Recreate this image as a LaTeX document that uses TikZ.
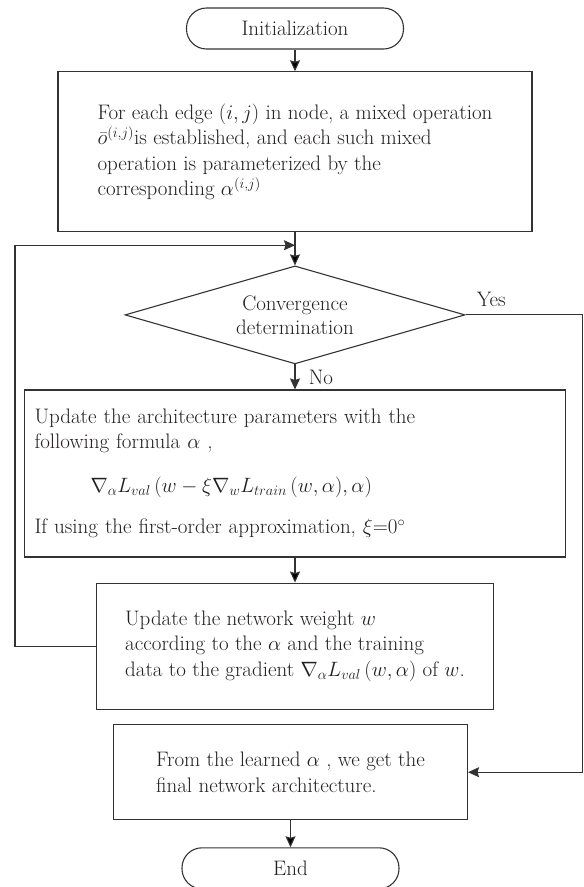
\documentclass[tikz,border=0pt]{standalone}
\usepackage{amsmath}
\usepackage{amssymb}
\usepackage{tikz}
\usetikzlibrary{arrows.meta,positioning,shapes.geometric,calc}
\definecolor{linegray}{HTML}{333333}
\definecolor{textgray}{HTML}{231F20}
\tikzset{
    %Define standard arrow tip
    >={Stealth[length=11pt,width=10pt,inset=1.5pt]},
    %Define style for boxes
    terminal/.style={
           rectangle,
           rounded corners=20pt,
           draw=linegray, line width=1.1pt,
           minimum width=217pt,
           minimum height=41pt,
           font=\fontsize{21}{25}\selectfont,
           text=textgray,
           text centered},
    procbox/.style={
           rectangle,
           draw=linegray, line width=1.1pt,
           font=\fontsize{21}{25.5}\selectfont,
           text=textgray,
           align=left},
    decision/.style={
           diamond,
           aspect=3.47,
           draw=linegray, line width=1.1pt,
           inner sep=0pt,
           minimum width=340pt,
           minimum height=98pt,
           font=\fontsize{21}{24}\selectfont,
           text=textgray,
           align=center},
    % Define arrow style
    pil/.style={
           ->,
           draw=linegray,
           line width=1.1pt},
    lbl/.style={
           font=\fontsize{21}{25}\selectfont,
           text=textgray}
}
\begin{document}
\begin{tikzpicture}[x=1pt,y=-1pt]
\useasboundingbox (0,0) rectangle (584,887);
\node[terminal] (init) at (295,28.5) {Initialization};
\node[procbox, below=21.7pt of init, minimum width=474pt, minimum height=160pt] (mixed) {For each edge $(i, j)$ in node, a mixed operation\\
  $\bar{o}^{(i,j)}$is established, and each such mixed\\
  operation is parameterized by the\\
  corresponding $\alpha^{(i,j)}$};
\node[decision, below=33pt of mixed] (conv) {Convergence\\determination};
\node[procbox, below=25pt of conv, minimum width=541pt, minimum height=167pt, text width=521pt, inner sep=10pt] (arch) {Update the architecture parameters with the\\
  following formula $\alpha$ ,\\[18pt]
  \hspace*{56pt}$\nabla_{\alpha}L_{val}\,(w-\xi\nabla_{w}L_{train}\,(w,\alpha),\alpha)$\\[16pt]
  If using the first-order approximation, $\xi$=0$^\circ$};
\node[procbox, below=25pt of arch, minimum width=397pt, minimum height=126pt] (weight) {Update the network weight $w$\\
  according to the $\alpha$ and the training\\
  data to the gradient $\nabla_{\alpha}L_{val}\,(w,\alpha)$ of $w$.};
\node[procbox, below=14.5pt of weight, xshift=-4.5pt, minimum width=354pt, minimum height=95pt] (final) {From the learned $\alpha$ , we get the\\
  final network architecture.};
\node[terminal, below=27pt of final] (end) {End};
\coordinate (loopin) at ($(mixed.south)!0.39!(conv.north)$);
 \path[pil]
    (init) edge (mixed)
    (mixed) edge (conv)
    (arch) edge (weight)
    (final) edge (end);
\draw[pil] (conv) -- node[lbl, right=10pt]{No} (arch);
\draw[pil] (weight.west) -- ++(-81,0) |- (loopin);
\draw[pil] (conv.east) -- node[lbl, above=4pt, pos=0.22]{Yes} ++(117,0) |- (final.east);
\end{tikzpicture}
\end{document}
